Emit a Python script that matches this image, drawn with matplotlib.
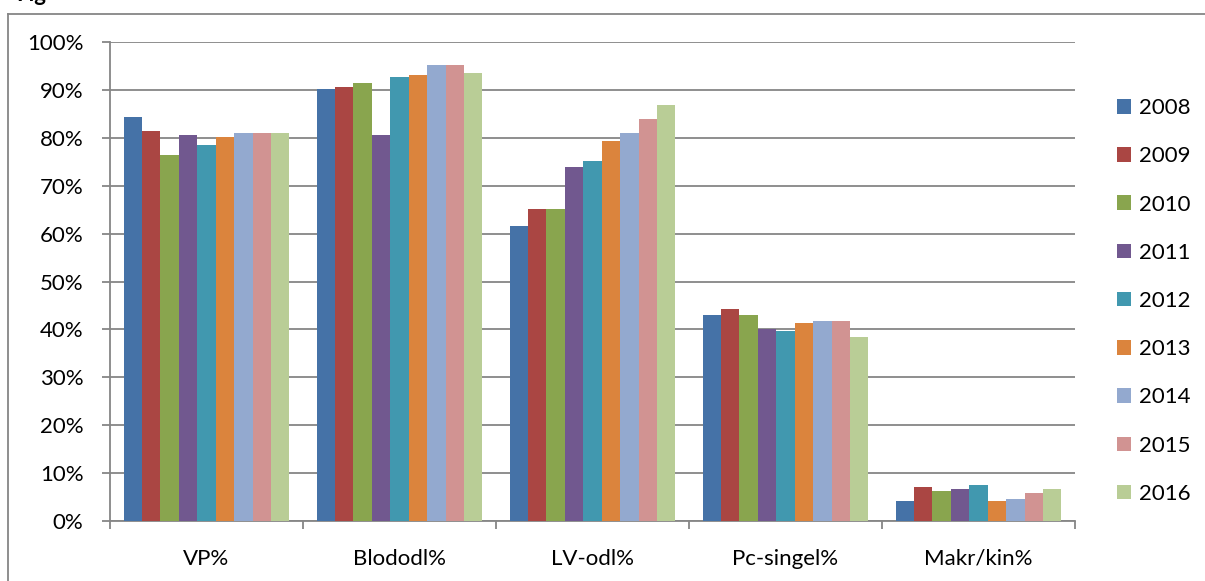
import numpy as np
import matplotlib
matplotlib.use('Agg')
import matplotlib.pyplot as plt
from matplotlib.lines import Line2D
from matplotlib.ticker import FixedLocator, FuncFormatter

plt.rcParams['font.family'] = ['Lato', 'DejaVu Sans']

categories = ['VP%', 'Blododl%', 'LV-odl%', 'Pc-singel%', 'Makr/kin%']
years = ['2008', '2009', '2010', '2011', '2012', '2013', '2014', '2015', '2016']

#values per year, in category order
values = {
    '2008': [84.3, 90.2, 61.5, 43.0, 4.2],
    '2009': [81.4, 90.6, 65.1, 44.3, 7.1],
    '2010': [76.4, 91.4, 65.1, 43.0, 6.3],
    '2011': [80.6, 80.6, 73.9, 40.1, 6.7],
    '2012': [78.5, 92.7, 75.2, 39.7, 7.5],
    '2013': [80.2, 93.1, 79.3, 41.3, 4.2],
    '2014': [81.0, 95.2, 81.0, 41.8, 4.6],
    '2015': [81.0, 95.2, 83.9, 41.8, 5.8],
    '2016': [81.0, 93.5, 86.8, 38.4, 6.7],
}

colors = ['#4572A7', '#AA4643', '#89A54E', '#71588F', '#4198AF',
          '#DB843D', '#93A9CF', '#D19392', '#B9CD96']

grey = '#868686'
W, H = 1205, 581

fig = plt.figure(figsize=(W / 100, H / 100), dpi=100)
ax = fig.add_axes([110 / W, 1 - 521 / H, (1075 - 110) / W, (521 - 42) / H])

x = np.arange(len(categories))
bar_w = 0.0955
for i, yr in enumerate(years):
    offs = (i - (len(years) - 1) / 2) * bar_w
    ax.bar(x + offs, values[yr], bar_w, color=colors[i], label=yr, zorder=3)

ax.set_xlim(-0.5, len(categories) - 0.5)
ax.set_ylim(0, 100)
ax.yaxis.set_major_locator(FixedLocator(np.arange(0, 101, 10)))
ax.yaxis.set_major_formatter(FuncFormatter(lambda v, p: f'{int(v)}%'))
ax.grid(axis='y', color=grey, linewidth=1.3, zorder=0)

ax.set_xticks(x)
ax.set_xticklabels(categories)
ax.xaxis.set_minor_locator(FixedLocator(np.arange(-0.5, len(categories), 1)))
ax.tick_params(axis='x', which='major', length=0, pad=20, labelsize=16)
ax.tick_params(axis='x', which='minor', length=6, width=1.3, color=grey, direction='out')
ax.tick_params(axis='y', length=6, width=1.3, color=grey, pad=13, labelsize=16)

for s in ['top', 'right']:
    ax.spines[s].set_visible(False)
for s in ['left', 'bottom']:
    ax.spines[s].set_color(grey)
    ax.spines[s].set_linewidth(1.3)

ax.legend(loc='center left', bbox_to_anchor=(1117 / W, 1 - 301 / H),
          bbox_transform=fig.transFigure, frameon=False, fontsize=16,
          handlelength=0.63, handleheight=0.63, handletextpad=0.36,
          labelspacing=1.27, borderpad=0, borderaxespad=0)

#outer chart frame (partly cut off)
fig.add_artist(Line2D([8 / W, 1.0], [1 - 13.5 / H, 1 - 13.5 / H], color=grey, linewidth=1.3))
fig.add_artist(Line2D([8 / W, 8 / W], [1 - 13.5 / H, 0], color=grey, linewidth=1.3))
fig.text(16 / W, 1 - 1 / H, 'Fig', fontsize=16, fontweight='bold', va='baseline')

fig.savefig('out.png', dpi=100)
